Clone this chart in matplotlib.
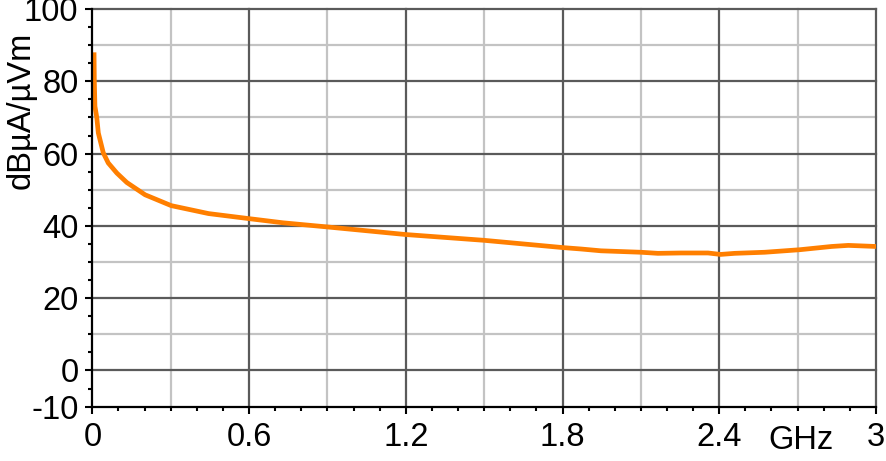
import matplotlib

matplotlib.use("Agg")

import matplotlib.pyplot as plt

plt.rcParams.update({
    "font.family": ["Liberation Sans", "DejaVu Sans"],
    "font.size": 23.5,
    "axes.unicode_minus": False,
})

# curve (GHz, dBuA/uVm)
freq_ghz = [0.0065, 0.0077, 0.010, 0.017, 0.023, 0.042, 0.061, 0.094, 0.132,
            0.202, 0.302, 0.445, 0.600, 0.730, 0.900, 1.200, 1.500, 1.800,
            1.871, 1.947, 2.100, 2.165, 2.254, 2.357, 2.405, 2.459, 2.574,
            2.708, 2.830, 2.894, 3.000]
level = [88.0, 80.0, 73.1, 70.0, 65.7, 60.2, 57.4, 54.6, 52.0,
         48.6, 45.6, 43.4, 42.0, 40.85, 39.7, 37.6, 36.0, 34.0,
         33.6, 33.1, 32.7, 32.4, 32.5, 32.5, 32.1, 32.4, 32.7,
         33.4, 34.3, 34.6, 34.3]

x_labels = ["0", "0.6", "1.2", "1.8", "2.4", "3"]
x_major = [0, 0.6, 1.2, 1.8, 2.4, 3.0]
x_minor_grid = [0.3, 0.9, 1.5, 2.1, 2.7]
y_major = [-10, 0, 20, 40, 60, 80, 100]
y_major_grid = [0, 20, 40, 60, 80, 100]
y_minor_grid = [10, 30, 50, 70, 90]

DARK = "#5a5a5a"
LIGHT = "#c3c3c3"

fig = plt.figure(figsize=(8.86, 4.61), dpi=100)
ax = fig.add_axes([0.1042, 0.118, 0.8845, 0.8625])

for v in x_minor_grid:
    ax.axvline(v, color=LIGHT, lw=1.6, zorder=1, clip_on=False)
for v in y_minor_grid:
    ax.axhline(v, color=LIGHT, lw=1.6, zorder=1, clip_on=False)
for v in x_major[1:]:
    ax.axvline(v, color=DARK, lw=1.6, zorder=2, clip_on=False)
for v in y_major_grid:
    ax.axhline(v, color=DARK, lw=1.6, zorder=2, clip_on=False)

ax.plot(freq_ghz, level, color="#ff7f00", lw=3.4, zorder=3,
        solid_capstyle="butt")

ax.set_xlim(0, 3)
ax.set_ylim(-10, 100)
ax.set_xticks(x_major)
ax.set_xticklabels(x_labels)
ax.set_xticks([i / 10 for i in range(31)], minor=True)
ax.set_yticks(y_major)
ax.set_yticks(list(range(-10, 101, 5)), minor=True)

ax.tick_params(axis="both", which="major", direction="out", length=5,
               width=1.5, colors="black", labelsize=23.5)
ax.tick_params(axis="x", which="major", pad=6)
ax.tick_params(axis="y", which="major", pad=5)
ax.tick_params(axis="both", which="minor", direction="out", length=3,
               width=1.5, colors="black")

for side in ("top", "right"):
    ax.spines[side].set_visible(False)
for side in ("left", "bottom"):
    ax.spines[side].set_linewidth(1.6)
    ax.spines[side].set_zorder(4)

fig.text(21 / 886, 1 - 110 / 461, "dBµA/µVm", rotation=90,
         ha="center", va="center", fontsize=23.5)
fig.text(801 / 886, 1 - 425 / 461, "GHz", ha="center", va="top", fontsize=23.5)

fig.savefig("out.png", dpi=100)
